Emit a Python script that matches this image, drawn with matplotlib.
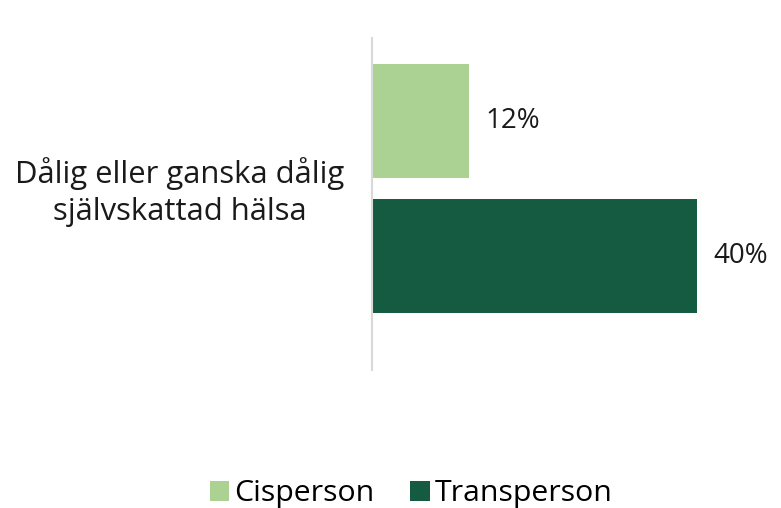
import matplotlib.pyplot as plt
from matplotlib.patches import Patch

plt.rcParams['font.family'] = ['Open Sans', 'DejaVu Sans']

# data
category = 'Dålig eller ganska dålig\nsjälvskattad hälsa'
series = ['Cisperson', 'Transperson']
values = [12, 40]
colors = ['#ACD293', '#145B41']

fig = plt.figure(figsize=(7.81, 5.08), dpi=100)
ax = fig.add_axes([372 / 781, 1 - 370 / 508, 406 / 781, 332 / 508])

positions = [0.5, -0.5]
bars = ax.barh(positions, values, height=0.844, color=colors)
for rect, v in zip(bars, values):
    ax.text(rect.get_width() + 2.0, rect.get_y() + rect.get_height() / 2,
            f'{v}%', va='center', ha='left', fontsize=20, color='#1a1a1a')

ax.set_xlim(0, 50)
ax.set_ylim(-1.344, 1.115)
for s in ['top', 'right', 'bottom']:
    ax.spines[s].set_visible(False)
ax.spines['left'].set_color('#D9D9D9')
ax.spines['left'].set_linewidth(1.5)
ax.set_xticks([])
ax.set_yticks([])

fig.text(179.5 / 781, 1 - 192 / 508, category, ha='center', va='center',
         multialignment='center', fontsize=22.3, color='#1a1a1a', linespacing=1.3)

handles = [Patch(facecolor=c, label=l) for c, l in zip(colors, series)]
fig.legend(handles=handles, loc='center', bbox_to_anchor=(411 / 781, 1 - 494 / 508),
           ncol=2, frameon=False, fontsize=21.8, handlelength=0.65, handleheight=0.65,
           handletextpad=0.15, columnspacing=1.2)

fig.savefig('out.png', dpi=100)
